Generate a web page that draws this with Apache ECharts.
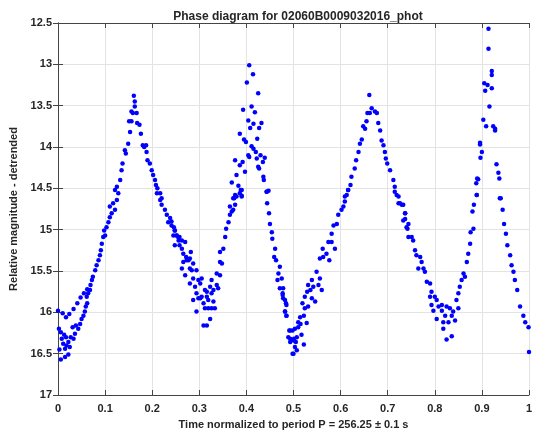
<!DOCTYPE html>
<html><head><meta charset="utf-8">
<script src="https://cdn.jsdelivr.net/npm/echarts@6/dist/echarts.min.js"></script>
<style>html,body{margin:0;padding:0;background:#fff}#c{width:533px;height:434px}</style>
</head><body><div id="c"></div>
<script>
const titleText = "Phase diagram for 02060B0009032016_phot";
const xName = "Time normalized to period P = 256.25 \u00b1 0.1 s";
const yName = "Relative magnitude - detrended";
const xTicks = [0,0.1,0.2,0.3,0.4,0.5,0.6,0.7,0.8,0.9,1];
const yTicks = [12.5,13,13.5,14,14.5,15,15.5,16,16.5,17];

// [phase, magnitude]
const minimum0 = [[0.0,15.98],[0.010,16.01],[0.017,16.06],[0.024,16.02],[0.033,15.96],[0.041,15.89],[0.048,15.82],[0.055,15.77],[0.062,15.72],
[0.006,16.24],[0.013,16.27],[0.008,16.32],[0.017,16.30],[0.022,16.36],[0.027,16.30],[0.033,16.32],[0.036,16.26],[0.031,16.18],[0.038,16.16],[0.043,16.20],[0.047,16.14],[0.050,16.08],[0.054,16.04],[0.057,15.99],[0.059,15.93],[0.062,15.89],
[0.006,16.57],[0.015,16.54],[0.022,16.51],[0.011,16.38],[0.018,16.40],[0.025,16.42],[0.015,16.44],[0.003,16.45],[0.002,16.20]];
const rise1 = [[0.061,15.81],[0.064,15.77],[0.068,15.73],[0.069,15.67],[0.072,15.61],[0.074,15.57],[0.079,15.49],[0.082,15.43],[0.086,15.37],[0.089,15.31],[0.091,15.25],[0.093,15.17],[0.096,15.09],[0.100,15.07],[0.098,15.01],[0.103,14.97],[0.107,14.91],[0.110,14.85],[0.114,14.80],[0.110,14.72],[0.117,14.68],[0.125,14.64],[0.128,14.56],[0.121,14.76],
[0.121,14.52],[0.125,14.48],[0.132,14.40],[0.135,14.28],[0.137,14.20],[0.142,14.04],[0.144,14.08],[0.149,13.96],[0.153,13.82],[0.151,13.69],[0.156,13.69],[0.159,13.59],[0.156,13.57],[0.163,13.51],[0.163,13.45],[0.161,13.38]];
const fall1 = [[0.167,13.59],[0.168,13.71],[0.173,13.73],[0.176,13.84],[0.180,13.98],[0.183,14.00],[0.188,14.06],[0.187,13.98],[0.190,14.16],[0.195,14.20],[0.199,14.28],[0.202,14.34],[0.206,14.40],[0.208,14.46],[0.211,14.50],[0.217,14.56],[0.220,14.62],
[0.210,14.56],[0.217,14.64],[0.220,14.70],[0.227,14.76],[0.231,14.82],[0.234,14.91],[0.241,14.95],[0.248,15.01],[0.252,15.07],[0.255,15.09],[0.258,15.19],
[0.238,14.86],[0.241,14.90],[0.246,14.97],[0.248,15.01],[0.245,15.07],[0.252,15.07],[0.258,15.09],[0.256,15.13],[0.263,15.13],[0.270,15.15],[0.248,15.19],[0.263,15.23],[0.266,15.29],[0.272,15.33],[0.273,15.37],[0.266,15.39],[0.277,15.37],[0.280,15.35],[0.282,15.27],[0.287,15.41],[0.280,15.47],[0.263,15.47],[0.270,15.55],[0.284,15.49],[0.294,15.49],[0.287,15.59],[0.280,15.65],[0.291,15.69],[0.298,15.61],[0.302,15.65],[0.305,15.59]];
const minimum1 = [[0.294,15.77],[0.287,15.85],[0.298,15.83],[0.302,15.83],[0.305,15.81],[0.309,15.89],[0.312,15.73],[0.316,15.75],[0.316,15.81],[0.323,15.69],[0.319,15.85],[0.326,15.77],[0.330,15.73],[0.330,15.87],[0.312,15.95],[0.319,15.95],[0.326,15.95],[0.333,15.95],[0.294,15.99],[0.323,16.08],[0.309,16.16],[0.316,16.16],[0.326,15.61],[0.337,15.67],[0.340,15.71],[0.337,15.53],[0.344,15.55]];
const rise2 = [[0.344,15.39],[0.348,15.41],[0.344,15.27],[0.351,15.23],[0.355,15.09],[0.357,14.99],[0.362,14.91],[0.365,14.82],[0.369,14.78],[0.365,14.72],[0.372,14.76],[0.376,14.70],[0.374,14.62],[0.379,14.60],[0.386,14.56],[0.390,14.60],[0.390,14.52],
[0.401,13.22],[0.425,13.35],[0.411,13.51],[0.393,13.55],[0.418,13.58],[0.404,13.68],[0.415,13.72],[0.432,13.71],[0.408,13.77],[0.427,13.77],[0.386,13.84],[0.395,13.91],[0.399,13.94],[0.423,13.90],[0.411,13.99],[0.415,14.02],[0.420,14.06],[0.430,14.10],[0.439,14.13],[0.404,14.10],[0.406,14.12],[0.422,14.14],[0.376,14.16],[0.392,14.18],[0.386,14.22],[0.425,14.24],[0.435,14.18],[0.397,14.30],[0.427,14.26],[0.379,14.34],[0.436,14.36],[0.437,14.40],[0.369,14.43],[0.383,14.47],[0.388,14.52],[0.376,14.58],[0.372,14.62],[0.390,14.59],[0.443,14.54],[0.447,14.53],[0.406,13.01],[0.414,13.12]];
const fall2 = [[0.443,14.54],[0.444,14.68],[0.448,14.80],[0.450,14.93],[0.454,15.03],[0.455,15.11],[0.461,15.23],[0.459,15.33],[0.463,15.37],[0.468,15.53],[0.466,15.61],[0.471,15.71],[0.477,15.77],[0.478,15.83],[0.484,15.89],[0.482,15.99],[0.485,16.04],[0.493,16.22],[0.503,16.20],[0.510,16.18],[0.493,16.32],[0.500,16.34],[0.507,16.30],[0.500,16.50],[0.503,16.42],
[0.471,15.45],[0.475,15.59],[0.478,15.71],[0.477,15.79],[0.482,15.85],[0.485,15.91],[0.482,15.99],[0.485,16.04]];
const minimum2 = [[0.491,16.22],[0.498,16.22],[0.489,16.30],[0.493,16.36],[0.501,16.32],[0.505,16.36],[0.498,16.50],[0.507,16.46],[0.510,16.12],[0.515,16.14],[0.517,16.27],[0.522,16.39],[0.514,16.06],[0.522,16.04],[0.528,16.13],[0.524,15.95],[0.531,15.93],[0.519,15.89],[0.524,15.81],[0.529,15.75],[0.536,15.73],[0.539,15.83],[0.531,15.67],[0.539,15.61],[0.542,15.69],[0.546,15.87]];
const rise3 = [[0.549,15.51],[0.553,15.67],[0.556,15.59],[0.560,15.73],[0.556,15.35],[0.563,15.33],[0.570,15.29],[0.576,15.37],[0.562,15.23],[0.574,15.15],[0.581,15.15],[0.588,15.23],[0.581,15.05],[0.585,14.95],[0.592,14.93],[0.595,14.82],[0.602,14.76],[0.606,14.72],[0.609,14.66],[0.613,14.58],[0.616,14.52],
[0.609,14.60],[0.616,14.52],[0.621,14.46],[0.623,14.36],[0.630,14.26],[0.633,14.16],[0.638,14.06],[0.641,13.96],[0.645,13.91],[0.648,13.75],[0.652,13.78],[0.655,13.69],[0.657,13.59],[0.662,13.59],[0.666,13.53],[0.673,13.57],[0.661,13.37]];
const fall3 = [[0.677,13.59],[0.680,13.71],[0.684,13.80],[0.687,13.92],[0.691,13.98],[0.694,14.06],[0.696,14.14],[0.699,14.20],[0.705,14.28],[0.712,14.40],[0.715,14.48],[0.719,14.58],[0.723,14.60],
[0.715,14.54],[0.723,14.68],[0.730,14.70],[0.737,14.80],[0.733,14.89],[0.740,14.97],[0.744,15.09],
[0.726,14.68],[0.733,14.70],[0.737,14.80],[0.737,14.87],[0.744,14.93],[0.742,14.99],[0.751,15.09],[0.754,15.13],[0.758,15.25],[0.761,15.31],[0.769,15.33],[0.772,15.39],[0.765,15.47],[0.776,15.47],[0.779,15.51],[0.783,15.63],[0.790,15.65],[0.793,15.75],[0.790,15.81],[0.800,15.81],[0.793,15.91],[0.804,15.85]];
const minimum3 = [[0.797,15.98],[0.808,15.93],[0.804,16.08],[0.815,15.91],[0.815,15.98],[0.818,16.12],[0.822,16.04],[0.825,15.93],[0.832,15.95],[0.825,16.33],[0.836,16.29],[0.818,16.20],[0.829,16.12],[0.836,16.04],[0.839,15.99],[0.843,16.10],[0.850,15.95]];
const rise4 = [[0.846,15.85],[0.850,15.77],[0.853,15.69],[0.857,15.61],[0.861,15.53],[0.864,15.57],[0.868,15.39],[0.871,15.29],[0.875,15.17],[0.876,15.03],[0.882,14.99],[0.880,14.78],[0.883,14.70],[0.889,14.58],
[0.914,12.57],[0.914,12.81],[0.921,13.08],[0.921,13.13],[0.905,13.23],[0.912,13.25],[0.921,13.29],[0.907,13.32],[0.916,13.51],[0.903,13.67],[0.909,13.75],[0.924,13.75],[0.928,13.78],[0.928,13.80],[0.896,13.95],[0.896,13.97],[0.900,14.06],[0.897,14.13],[0.890,14.38],[0.892,14.39],[0.888,14.44],[0.889,14.58]];
const fall4 = [[0.931,14.21],[0.935,14.31],[0.937,14.38],[0.940,14.62],[0.938,14.62],[0.944,14.76],[0.947,14.93],[0.951,15.05],[0.954,15.19],[0.960,15.31],[0.963,15.43],[0.967,15.51],[0.970,15.61],[0.975,15.73],[0.981,15.93],[0.988,16.04],[0.992,16.12],[0.999,16.18],[1.0,16.48]];

const allPoints = [].concat(minimum0, rise1, fall1, minimum1, rise2, fall2, minimum2, rise3, fall3, minimum3, rise4, fall4);

const FONT = "'Liberation Sans', Arial, Helvetica, sans-serif";
const TXT = '#262626';
const chart = echarts.init(document.getElementById('c'), null, {renderer:'canvas'});
const baseX = {
  type:'value', min:xTicks[0], max:xTicks[xTicks.length-1], interval:0.1,
  axisLine:{show:true, lineStyle:{color:'#444', width:1}},
  axisTick:{show:true, inside:true, length:5, lineStyle:{color:'#444'}},
  splitLine:{show:false}
};
const baseY = {
  type:'value', min:yTicks[0], max:yTicks[yTicks.length-1], interval:0.5, inverse:true,
  axisLine:{show:true, lineStyle:{color:'#444', width:1}},
  axisTick:{show:true, inside:true, length:5, lineStyle:{color:'#444'}},
  splitLine:{show:false}
};
chart.setOption({
  animation:false,
  backgroundColor:'#fff',
  title:{text:titleText, left:293, top:6, textAlign:'center',
    textStyle:{fontFamily:FONT, fontSize:12, fontWeight:'bold', color:TXT}},
  grid:{left:58, right:4, top:23, bottom:39, containLabel:false, outerBoundsMode:'none'},
  xAxis:[
    Object.assign({}, baseX, {position:'bottom',
      name:xName, nameLocation:'middle', nameGap:24,
      nameTextStyle:{fontFamily:FONT, fontSize:11, fontWeight:'bold', color:TXT},
      axisLabel:{fontFamily:FONT, fontSize:11, fontWeight:'bold', color:TXT, margin:8,
        formatter:function(v){return String(Math.round(v*10)/10);}},
      splitLine:{show:true, lineStyle:{color:'#e3e3e3', width:1}}}),
    Object.assign({}, baseX, {position:'top', axisLabel:{show:false}})
  ],
  yAxis:[
    Object.assign({}, baseY, {position:'left',
      name:yName, nameLocation:'middle', nameGap:34, nameRotate:90,
      nameTextStyle:{fontFamily:FONT, fontSize:11, fontWeight:'bold', color:TXT},
      axisLabel:{fontFamily:FONT, fontSize:11, fontWeight:'bold', color:TXT, margin:6},
      splitLine:{show:true, lineStyle:{color:'#e3e3e3', width:1}}}),
    Object.assign({}, baseY, {position:'right', axisLabel:{show:false}})
  ],
  series:[{
    type:'scatter', xAxisIndex:0, yAxisIndex:0,
    data:allPoints, symbol:'circle', symbolSize:4.5,
    itemStyle:{color:'#0000ff', opacity:1},
    clip:false
  }]
});
</script></body></html>
